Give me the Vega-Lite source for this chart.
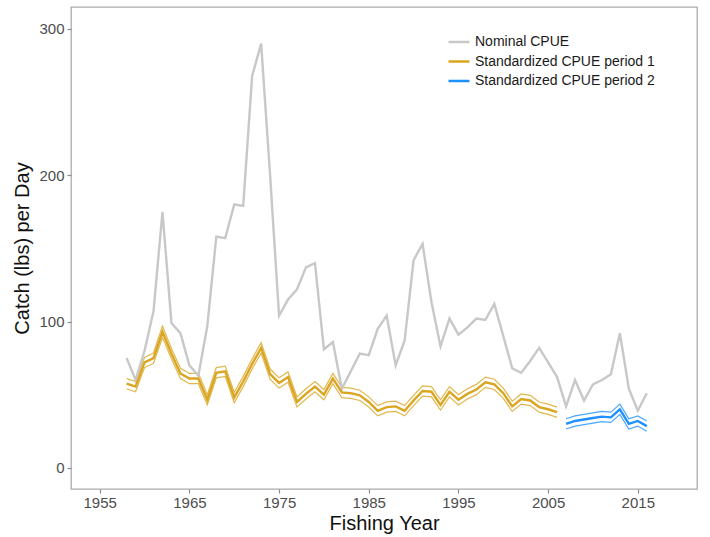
{
  "$schema": "https://vega.github.io/schema/vega-lite/v6.json",
  "width": 626,
  "height": 482,
  "autosize": {"type": "none"},
  "padding": {"left": 71, "top": 7, "right": 13, "bottom": 48},
  "background": "white",
  "config": {
    "font": "Liberation Sans",
    "view": {"stroke": "#ABABAB", "strokeWidth": 1.3},
    "axis": {
      "grid": false,
      "domain": false,
      "tickColor": "#8C8C8C",
      "tickSize": 4,
      "tickWidth": 1.2,
      "labelColor": "#4D4D4D",
      "labelFontSize": 15,
      "labelFont": "Liberation Sans",
      "titleColor": "#111111",
      "titleFontSize": 20,
      "titleFontWeight": "normal",
      "titleFont": "Liberation Sans"
    }
  },
  "datasets": {
    "main": [
      {"year": 1958, "series": "Nominal CPUE", "value": 75},
      {"year": 1959, "series": "Nominal CPUE", "value": 60},
      {"year": 1960, "series": "Nominal CPUE", "value": 80},
      {"year": 1961, "series": "Nominal CPUE", "value": 107},
      {"year": 1962, "series": "Nominal CPUE", "value": 175},
      {"year": 1963, "series": "Nominal CPUE", "value": 99},
      {"year": 1964, "series": "Nominal CPUE", "value": 92},
      {"year": 1965, "series": "Nominal CPUE", "value": 70},
      {"year": 1966, "series": "Nominal CPUE", "value": 63},
      {"year": 1967, "series": "Nominal CPUE", "value": 97},
      {"year": 1968, "series": "Nominal CPUE", "value": 158},
      {"year": 1969, "series": "Nominal CPUE", "value": 157},
      {"year": 1970, "series": "Nominal CPUE", "value": 180},
      {"year": 1971, "series": "Nominal CPUE", "value": 179},
      {"year": 1972, "series": "Nominal CPUE", "value": 268},
      {"year": 1973, "series": "Nominal CPUE", "value": 290},
      {"year": 1974, "series": "Nominal CPUE", "value": 200},
      {"year": 1975, "series": "Nominal CPUE", "value": 104},
      {"year": 1976, "series": "Nominal CPUE", "value": 115},
      {"year": 1977, "series": "Nominal CPUE", "value": 122},
      {"year": 1978, "series": "Nominal CPUE", "value": 137},
      {"year": 1979, "series": "Nominal CPUE", "value": 140},
      {"year": 1980, "series": "Nominal CPUE", "value": 81},
      {"year": 1981, "series": "Nominal CPUE", "value": 86},
      {"year": 1982, "series": "Nominal CPUE", "value": 54},
      {"year": 1983, "series": "Nominal CPUE", "value": 66},
      {"year": 1984, "series": "Nominal CPUE", "value": 78},
      {"year": 1985, "series": "Nominal CPUE", "value": 77},
      {"year": 1986, "series": "Nominal CPUE", "value": 95},
      {"year": 1987, "series": "Nominal CPUE", "value": 104},
      {"year": 1988, "series": "Nominal CPUE", "value": 70},
      {"year": 1989, "series": "Nominal CPUE", "value": 87},
      {"year": 1990, "series": "Nominal CPUE", "value": 142},
      {"year": 1991, "series": "Nominal CPUE", "value": 153},
      {"year": 1992, "series": "Nominal CPUE", "value": 113},
      {"year": 1993, "series": "Nominal CPUE", "value": 83},
      {"year": 1994, "series": "Nominal CPUE", "value": 102},
      {"year": 1995, "series": "Nominal CPUE", "value": 91},
      {"year": 1996, "series": "Nominal CPUE", "value": 96},
      {"year": 1997, "series": "Nominal CPUE", "value": 102},
      {"year": 1998, "series": "Nominal CPUE", "value": 101},
      {"year": 1999, "series": "Nominal CPUE", "value": 112},
      {"year": 2000, "series": "Nominal CPUE", "value": 90},
      {"year": 2001, "series": "Nominal CPUE", "value": 68},
      {"year": 2002, "series": "Nominal CPUE", "value": 65},
      {"year": 2003, "series": "Nominal CPUE", "value": 73},
      {"year": 2004, "series": "Nominal CPUE", "value": 82},
      {"year": 2005, "series": "Nominal CPUE", "value": 72},
      {"year": 2006, "series": "Nominal CPUE", "value": 62},
      {"year": 2007, "series": "Nominal CPUE", "value": 42},
      {"year": 2008, "series": "Nominal CPUE", "value": 60},
      {"year": 2009, "series": "Nominal CPUE", "value": 46},
      {"year": 2010, "series": "Nominal CPUE", "value": 57},
      {"year": 2011, "series": "Nominal CPUE", "value": 60},
      {"year": 2012, "series": "Nominal CPUE", "value": 64},
      {"year": 2013, "series": "Nominal CPUE", "value": 92},
      {"year": 2014, "series": "Nominal CPUE", "value": 54},
      {"year": 2015, "series": "Nominal CPUE", "value": 39},
      {"year": 2016, "series": "Nominal CPUE", "value": 51},

      {"year": 1958, "series": "Standardized CPUE period 1", "value": 57.5, "lo": 54, "hi": 61},
      {"year": 1959, "series": "Standardized CPUE period 1", "value": 55.5, "lo": 52, "hi": 59},
      {"year": 1960, "series": "Standardized CPUE period 1", "value": 72, "lo": 68.5, "hi": 75.5},
      {"year": 1961, "series": "Standardized CPUE period 1", "value": 75, "lo": 71.5, "hi": 78.5},
      {"year": 1962, "series": "Standardized CPUE period 1", "value": 93, "lo": 89, "hi": 97},
      {"year": 1963, "series": "Standardized CPUE period 1", "value": 78, "lo": 74.5, "hi": 81.5},
      {"year": 1964, "series": "Standardized CPUE period 1", "value": 64.5, "lo": 61, "hi": 68},
      {"year": 1965, "series": "Standardized CPUE period 1", "value": 61, "lo": 57.5, "hi": 64.5},
      {"year": 1966, "series": "Standardized CPUE period 1", "value": 61, "lo": 57.5, "hi": 64.5},
      {"year": 1967, "series": "Standardized CPUE period 1", "value": 46.5, "lo": 43, "hi": 50},
      {"year": 1968, "series": "Standardized CPUE period 1", "value": 65, "lo": 61.5, "hi": 68.5},
      {"year": 1969, "series": "Standardized CPUE period 1", "value": 66, "lo": 62.5, "hi": 69.5},
      {"year": 1970, "series": "Standardized CPUE period 1", "value": 48, "lo": 44.5, "hi": 51.5},
      {"year": 1971, "series": "Standardized CPUE period 1", "value": 59, "lo": 55.5, "hi": 62.5},
      {"year": 1972, "series": "Standardized CPUE period 1", "value": 71, "lo": 67.5, "hi": 74.5},
      {"year": 1973, "series": "Standardized CPUE period 1", "value": 82, "lo": 78.5, "hi": 85.5},
      {"year": 1974, "series": "Standardized CPUE period 1", "value": 64, "lo": 60.5, "hi": 67.5},
      {"year": 1975, "series": "Standardized CPUE period 1", "value": 58, "lo": 54.5, "hi": 61.5},
      {"year": 1976, "series": "Standardized CPUE period 1", "value": 62, "lo": 58.5, "hi": 65.5},
      {"year": 1977, "series": "Standardized CPUE period 1", "value": 45, "lo": 41.5, "hi": 48.5},
      {"year": 1978, "series": "Standardized CPUE period 1", "value": 50.5, "lo": 47, "hi": 54},
      {"year": 1979, "series": "Standardized CPUE period 1", "value": 55.5, "lo": 52, "hi": 59},
      {"year": 1980, "series": "Standardized CPUE period 1", "value": 50, "lo": 46.5, "hi": 53.5},
      {"year": 1981, "series": "Standardized CPUE period 1", "value": 61, "lo": 57.5, "hi": 64.5},
      {"year": 1982, "series": "Standardized CPUE period 1", "value": 51.5, "lo": 48, "hi": 55},
      {"year": 1983, "series": "Standardized CPUE period 1", "value": 51, "lo": 47.5, "hi": 54.5},
      {"year": 1984, "series": "Standardized CPUE period 1", "value": 49.5, "lo": 46, "hi": 53},
      {"year": 1985, "series": "Standardized CPUE period 1", "value": 45, "lo": 41.5, "hi": 48.5},
      {"year": 1986, "series": "Standardized CPUE period 1", "value": 39, "lo": 35.5, "hi": 42.5},
      {"year": 1987, "series": "Standardized CPUE period 1", "value": 41.5, "lo": 38, "hi": 45},
      {"year": 1988, "series": "Standardized CPUE period 1", "value": 42, "lo": 38.5, "hi": 45.5},
      {"year": 1989, "series": "Standardized CPUE period 1", "value": 39, "lo": 35.5, "hi": 42.5},
      {"year": 1990, "series": "Standardized CPUE period 1", "value": 46, "lo": 42.5, "hi": 49.5},
      {"year": 1991, "series": "Standardized CPUE period 1", "value": 52.5, "lo": 49, "hi": 56},
      {"year": 1992, "series": "Standardized CPUE period 1", "value": 52, "lo": 48.5, "hi": 55.5},
      {"year": 1993, "series": "Standardized CPUE period 1", "value": 43, "lo": 39.5, "hi": 46.5},
      {"year": 1994, "series": "Standardized CPUE period 1", "value": 52, "lo": 48.5, "hi": 55.5},
      {"year": 1995, "series": "Standardized CPUE period 1", "value": 46.5, "lo": 43, "hi": 50},
      {"year": 1996, "series": "Standardized CPUE period 1", "value": 50.5, "lo": 47, "hi": 54},
      {"year": 1997, "series": "Standardized CPUE period 1", "value": 53.5, "lo": 50, "hi": 57},
      {"year": 1998, "series": "Standardized CPUE period 1", "value": 58.5, "lo": 55, "hi": 62},
      {"year": 1999, "series": "Standardized CPUE period 1", "value": 57, "lo": 53.5, "hi": 60.5},
      {"year": 2000, "series": "Standardized CPUE period 1", "value": 51, "lo": 47.5, "hi": 54.5},
      {"year": 2001, "series": "Standardized CPUE period 1", "value": 42, "lo": 38.5, "hi": 45.5},
      {"year": 2002, "series": "Standardized CPUE period 1", "value": 47, "lo": 43.5, "hi": 50.5},
      {"year": 2003, "series": "Standardized CPUE period 1", "value": 46, "lo": 42.5, "hi": 49.5},
      {"year": 2004, "series": "Standardized CPUE period 1", "value": 41.5, "lo": 38, "hi": 45},
      {"year": 2005, "series": "Standardized CPUE period 1", "value": 40, "lo": 36.5, "hi": 43.5},
      {"year": 2006, "series": "Standardized CPUE period 1", "value": 38, "lo": 34.5, "hi": 41.5},

      {"year": 2007, "series": "Standardized CPUE period 2", "value": 30, "lo": 26.5, "hi": 33.5},
      {"year": 2008, "series": "Standardized CPUE period 2", "value": 32, "lo": 28.5, "hi": 35.5},
      {"year": 2009, "series": "Standardized CPUE period 2", "value": 33, "lo": 29.5, "hi": 36.5},
      {"year": 2010, "series": "Standardized CPUE period 2", "value": 34, "lo": 30.5, "hi": 37.5},
      {"year": 2011, "series": "Standardized CPUE period 2", "value": 35, "lo": 31.5, "hi": 38.5},
      {"year": 2012, "series": "Standardized CPUE period 2", "value": 34.5, "lo": 31, "hi": 38},
      {"year": 2013, "series": "Standardized CPUE period 2", "value": 40, "lo": 36.5, "hi": 43.5},
      {"year": 2014, "series": "Standardized CPUE period 2", "value": 30, "lo": 26.5, "hi": 33.5},
      {"year": 2015, "series": "Standardized CPUE period 2", "value": 32, "lo": 28.5, "hi": 35.5},
      {"year": 2016, "series": "Standardized CPUE period 2", "value": 28.5, "lo": 25, "hi": 32}
    ]
  },
  "data": {"name": "main"},
  "layer": [
    {
      "transform": [
        {"filter": "datum.series == 'Standardized CPUE period 1'"},
        {"fold": ["lo", "hi"], "as": ["bound", "bv"]}
      ],
      "mark": {"type": "line", "strokeWidth": 1.2, "opacity": 0.8, "color": "#DAA520", "clip": true},
      "encoding": {
        "x": {"field": "year", "type": "quantitative"},
        "y": {"field": "bv", "type": "quantitative"},
        "detail": {"field": "bound", "type": "nominal"}
      }
    },
    {
      "transform": [
        {"filter": "datum.series == 'Standardized CPUE period 2'"},
        {"fold": ["lo", "hi"], "as": ["bound", "bv"]}
      ],
      "mark": {"type": "line", "strokeWidth": 1.2, "opacity": 0.8, "color": "#1E90FF", "clip": true},
      "encoding": {
        "x": {"field": "year", "type": "quantitative"},
        "y": {"field": "bv", "type": "quantitative"},
        "detail": {"field": "bound", "type": "nominal"}
      }
    },
    {
      "mark": {"type": "line", "strokeWidth": 2.4, "clip": true},
      "encoding": {
        "x": {"field": "year", "type": "quantitative",
          "scale": {"domain": [1951.8, 2021.6], "nice": false, "zero": false},
          "axis": {"title": "Fishing Year", "values": [1955, 1965, 1975, 1985, 1995, 2005, 2015], "format": "d", "labelPadding": 2, "titlePadding": 3}},
        "y": {"field": "value", "type": "quantitative",
          "scale": {"domain": [-14.5, 315], "nice": false, "zero": false},
          "axis": {"title": "Catch (lbs) per Day", "values": [0, 100, 200, 300], "labelPadding": 3, "titlePadding": 6}},
        "color": {"field": "series", "type": "nominal",
          "scale": {"domain": ["Nominal CPUE", "Standardized CPUE period 1", "Standardized CPUE period 2"], "range": ["#C8C8C8", "#DAA520", "#1E90FF"]},
          "legend": {"title": null, "orient": "none", "legendX": 376, "legendY": 23, "symbolType": "stroke", "symbolSize": 440, "symbolStrokeWidth": 2.5, "labelFontSize": 14, "labelColor": "#1a1a1a", "labelFont": "Liberation Sans", "labelOffset": 4, "rowPadding": 0.5, "padding": 0, "labelLimit": 400}}
      }
    }
  ]
}
